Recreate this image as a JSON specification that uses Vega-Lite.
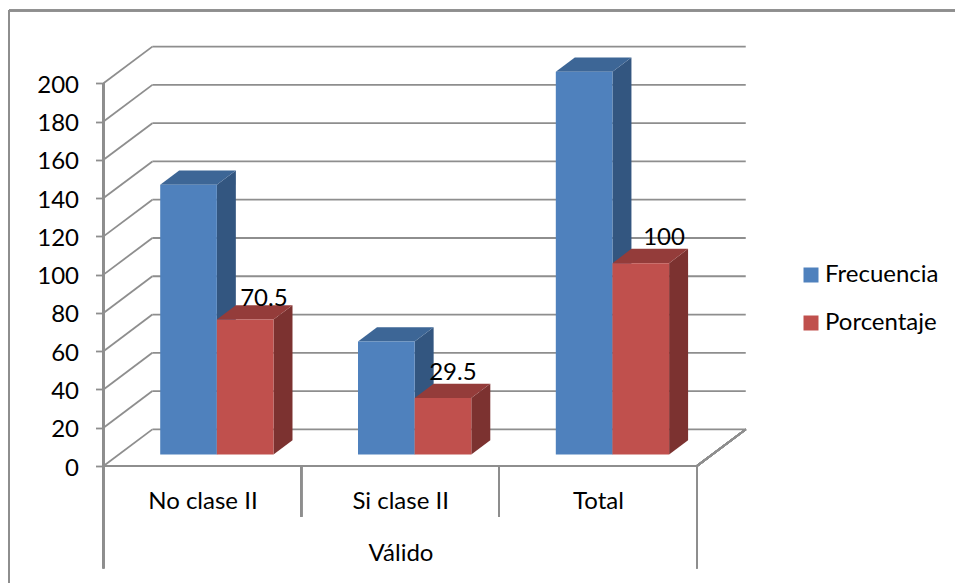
{
  "$schema": "https://vega.github.io/schema/vega-lite/v6.json",
  "width": 643,
  "height": 421,
  "autosize": "none",
  "padding": {"left": 103.5, "top": 45, "right": 208.5, "bottom": 117},
  "background": "white",
  "config": {
    "view": {"stroke": null},
    "font": "Lato",
    "rule": {"stroke": "#8e8e8e", "strokeWidth": 1.8}
  },
  "datasets": {
    "niveles": [
      {"nivel": 0}, {"nivel": 20}, {"nivel": 40}, {"nivel": 60}, {"nivel": 80}, {"nivel": 100},
      {"nivel": 120}, {"nivel": 140}, {"nivel": 160}, {"nivel": 180}, {"nivel": 200}
    ]
  },
  "data": {
    "values": [
      {"categoria": "No clase II", "serie": "Frecuencia", "valor": 141},
      {"categoria": "No clase II", "serie": "Porcentaje", "valor": 70.5},
      {"categoria": "Si clase II", "serie": "Frecuencia", "valor": 59},
      {"categoria": "Si clase II", "serie": "Porcentaje", "valor": 29.5},
      {"categoria": "Total", "serie": "Frecuencia", "valor": 200},
      {"categoria": "Total", "serie": "Porcentaje", "valor": 100}
    ]
  },
  "transform": [
    {"calculate": "indexof(['No clase II','Si clase II','Total'], datum.categoria)", "as": "grupo"},
    {"calculate": "datum.grupo + 0.2867 + (datum.serie === 'Frecuencia' ? 0 : 0.2864)", "as": "izq"},
    {"calculate": "datum.izq + 0.2864", "as": "der"},
    {"calculate": "[0, 1]", "as": "paso"},
    {"flatten": ["paso"]},
    {"calculate": "6 + datum.paso * 7.47", "as": "base"},
    {"calculate": "datum.base + datum.valor", "as": "techo"},
    {"calculate": "datum.izq + datum.paso * 0.096", "as": "izqFondo"},
    {"calculate": "datum.der + datum.paso * 0.096", "as": "derFondo"}
  ],
  "layer": [
    {
      "description": "Marco exterior del gráfico",
      "mark": {"type": "rule", "strokeWidth": 1.6},
      "encoding": {
        "x": {"datum": -0.478, "scale": {"domain": [0, 3.2508], "nice": false}, "axis": null},
        "x2": {"datum": 4.31},
        "y": {"datum": 238, "scale": {"domain": [0, 220], "nice": false}, "axis": null}
      }
    },
    {
      "mark": {"type": "rule", "strokeWidth": 1.6},
      "encoding": {
        "x": {"datum": -0.478, "scale": {"domain": [0, 3.2508], "nice": false}, "axis": null},
        "y": {"datum": 238, "scale": {"domain": [0, 220], "nice": false}, "axis": null},
        "y2": {"datum": -61}
      }
    },
    {
      "description": "Líneas de división en la pared del fondo",
      "data": {"name": "niveles"},
      "transform": [{"calculate": "datum.nivel + 19.15", "as": "fondo"}],
      "mark": {"type": "rule"},
      "encoding": {
        "x": {
          "datum": 0.247,
          "scale": {"domain": [0, 3.2508], "nice": false},
          "axis": {
            "values": [0.5, 1.5, 2.5],
            "labelExpr": "['No clase II', 'Si clase II', 'Total'][floor(datum.value)]",
            "domain": false,
            "ticks": false,
            "grid": false,
            "labelPadding": 23,
            "labelFontSize": 24,
            "labelColor": "black",
            "labelFont": "Lato",
            "title": "Válido",
            "titleFont": "Lato",
            "titleFontSize": 24,
            "titleFontWeight": "normal",
            "titleColor": "black",
            "titleX": 297,
            "titleY": 94,
            "titleAlign": "center",
            "titleBaseline": "alphabetic"
          }
        },
        "x2": {"datum": 3.247},
        "y": {
          "field": "fondo",
          "type": "quantitative",
          "scale": {"domain": [0, 220], "nice": false},
          "axis": null
        }
      }
    },
    {
      "description": "Líneas de división en la pared lateral",
      "data": {"name": "niveles"},
      "transform": [{"calculate": "datum.nivel + 19.15", "as": "fondo"}],
      "mark": {"type": "rule"},
      "encoding": {
        "x": {"datum": 0, "scale": {"domain": [0, 3.2508], "nice": false}, "axis": null},
        "x2": {"datum": 0.247},
        "y": {
          "field": "nivel",
          "type": "quantitative",
          "scale": {"domain": [0, 220], "nice": false},
          "axis": {
            "values": [0, 20, 40, 60, 80, 100, 120, 140, 160, 180, 200],
            "domain": false,
            "grid": false,
            "ticks": true,
            "tickSize": 8,
            "tickColor": "#8e8e8e",
            "tickWidth": 1.8,
            "labelPadding": 17,
            "labelOffset": 2,
            "labelFontSize": 24,
            "labelFont": "Lato",
            "labelColor": "black",
            "title": null
          }
        },
        "y2": {"field": "fondo"}
      }
    },
    {
      "description": "Borde derecho del suelo",
      "mark": {"type": "rule"},
      "encoding": {
        "x": {"datum": 3, "scale": {"domain": [0, 3.2508], "nice": false}, "axis": null},
        "x2": {"datum": 3.247},
        "y": {"datum": 0, "scale": {"domain": [0, 220], "nice": false}, "axis": null},
        "y2": {"datum": 19.15}
      }
    },
    {
      "description": "Borde frontal del suelo",
      "mark": {"type": "rule"},
      "encoding": {
        "x": {"datum": 0, "scale": {"domain": [0, 3.2508], "nice": false}, "axis": null},
        "x2": {"datum": 3},
        "y": {"datum": 0, "scale": {"domain": [0, 220], "nice": false}, "axis": null}
      }
    },
    {
      "description": "Eje vertical y separadores de las categorías",
      "mark": {"type": "rule"},
      "encoding": {
        "x": {"datum": 0, "scale": {"domain": [0, 3.2508], "nice": false}, "axis": null},
        "y": {"datum": 200, "scale": {"domain": [0, 220], "nice": false}, "axis": null},
        "y2": {"datum": -53.4}
      }
    },
    {
      "mark": {"type": "rule"},
      "encoding": {
        "x": {"datum": 3, "scale": {"domain": [0, 3.2508], "nice": false}, "axis": null},
        "y": {"datum": 0, "scale": {"domain": [0, 220], "nice": false}, "axis": null},
        "y2": {"datum": -53.4}
      }
    },
    {
      "mark": {"type": "rule"},
      "encoding": {
        "x": {"datum": 1, "scale": {"domain": [0, 3.2508], "nice": false}, "axis": null},
        "y": {"datum": 0, "scale": {"domain": [0, 220], "nice": false}, "axis": null},
        "y2": {"datum": -26.5}
      }
    },
    {
      "mark": {"type": "rule"},
      "encoding": {
        "x": {"datum": 2, "scale": {"domain": [0, 3.2508], "nice": false}, "axis": null},
        "y": {"datum": 0, "scale": {"domain": [0, 220], "nice": false}, "axis": null},
        "y2": {"datum": -26.5}
      }
    },
    {
      "description": "Cara lateral de las barras de frecuencia",
      "transform": [{"filter": "datum.serie === 'Frecuencia'"}],
      "mark": {"type": "area", "color": "#335680", "opacity": 1},
      "encoding": {
        "x": {"field": "derFondo", "type": "quantitative", "scale": {"domain": [0, 3.2508], "nice": false}, "axis": null},
        "y": {"field": "base", "type": "quantitative", "scale": {"domain": [0, 220], "nice": false}, "axis": null, "stack": null},
        "y2": {"field": "techo"},
        "detail": {"field": "categoria"}
      }
    },
    {
      "description": "Cara superior de las barras de frecuencia",
      "transform": [{"filter": "datum.serie === 'Frecuencia'"}],
      "mark": {"type": "area", "orient": "horizontal", "color": "#3d6696", "opacity": 1},
      "encoding": {
        "y": {"field": "techo", "type": "quantitative", "scale": {"domain": [0, 220], "nice": false}, "axis": null},
        "x": {"field": "izqFondo", "type": "quantitative", "scale": {"domain": [0, 3.2508], "nice": false}, "axis": null, "stack": null},
        "x2": {"field": "derFondo"},
        "detail": {"field": "categoria"}
      }
    },
    {
      "description": "Cara lateral de las barras de porcentaje",
      "transform": [{"filter": "datum.serie === 'Porcentaje'"}],
      "mark": {"type": "area", "color": "#7c3230", "opacity": 1},
      "encoding": {
        "x": {"field": "derFondo", "type": "quantitative", "scale": {"domain": [0, 3.2508], "nice": false}, "axis": null},
        "y": {"field": "base", "type": "quantitative", "scale": {"domain": [0, 220], "nice": false}, "axis": null, "stack": null},
        "y2": {"field": "techo"},
        "detail": {"field": "categoria"}
      }
    },
    {
      "description": "Cara superior de las barras de porcentaje",
      "transform": [{"filter": "datum.serie === 'Porcentaje'"}],
      "mark": {"type": "area", "orient": "horizontal", "color": "#943c3a", "opacity": 1},
      "encoding": {
        "y": {"field": "techo", "type": "quantitative", "scale": {"domain": [0, 220], "nice": false}, "axis": null},
        "x": {"field": "izqFondo", "type": "quantitative", "scale": {"domain": [0, 3.2508], "nice": false}, "axis": null, "stack": null},
        "x2": {"field": "derFondo"},
        "detail": {"field": "categoria"}
      }
    },
    {
      "description": "Cara frontal de todas las barras, con la leyenda de series",
      "transform": [{"filter": "datum.paso === 0"}],
      "mark": {"type": "rect"},
      "encoding": {
        "x": {"field": "izq", "type": "quantitative", "scale": {"domain": [0, 3.2508], "nice": false}, "axis": null},
        "x2": {"field": "der"},
        "y": {"field": "base", "type": "quantitative", "scale": {"domain": [0, 220], "nice": false}, "axis": null},
        "y2": {"field": "techo"},
        "color": {
          "field": "serie",
          "type": "nominal",
          "scale": {"domain": ["Frecuencia", "Porcentaje"], "range": ["#4f81bd", "#c0504d"]},
          "legend": {
            "orient": "none",
            "legendX": 695.5,
            "legendY": 218,
            "title": null,
            "symbolType": "square",
            "symbolSize": 225,
            "symbolStrokeWidth": 0,
            "labelFont": "Lato",
            "labelFontSize": 24,
            "labelColor": "black",
            "labelOffset": 2,
            "rowPadding": 24
          }
        }
      }
    },
    {
      "description": "Rótulos de datos de la serie de porcentaje",
      "transform": [
        {"filter": "datum.paso === 1 && datum.serie === 'Porcentaje'"},
        {"calculate": "(datum.izq + datum.der) / 2 + [0.0945, 0.05, 0.1178][datum.grupo]", "as": "xRotulo"},
        {"calculate": "datum.techo + [-0.3, 2, 2][datum.grupo]", "as": "yRotulo"}
      ],
      "mark": {"type": "text", "align": "center", "baseline": "alphabetic", "fontSize": 24, "font": "Lato", "color": "black"},
      "encoding": {
        "x": {"field": "xRotulo", "type": "quantitative", "scale": {"domain": [0, 3.2508], "nice": false}, "axis": null},
        "y": {"field": "yRotulo", "type": "quantitative", "scale": {"domain": [0, 220], "nice": false}, "axis": null},
        "text": {"field": "valor", "type": "nominal"}
      }
    }
  ],
  "resolve": {
    "legend": {"color": "independent"},
    "axis": {"x": "independent", "y": "independent"}
  }
}
